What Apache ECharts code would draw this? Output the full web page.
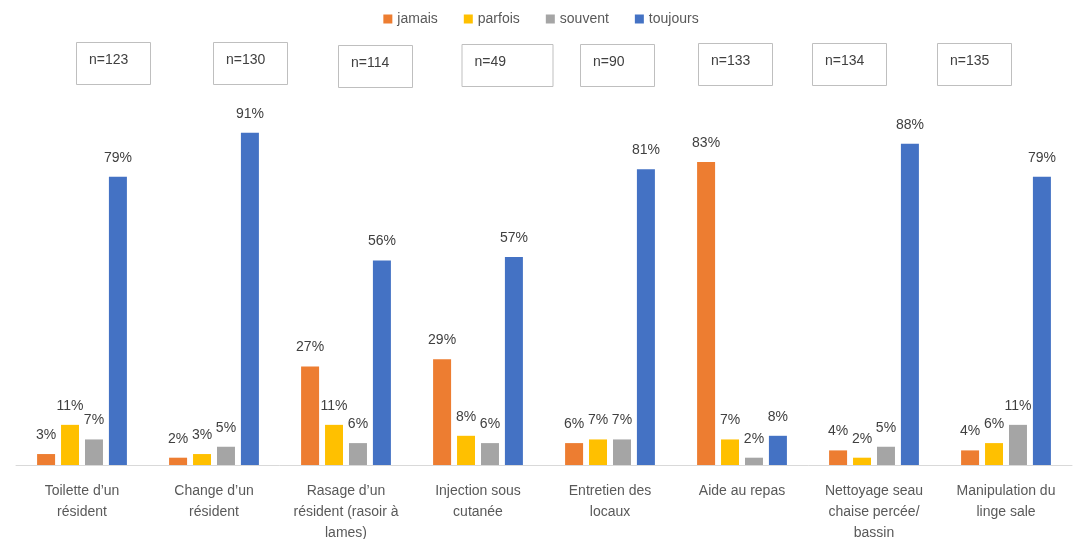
<!DOCTYPE html>
<html>
<head>
<meta charset="utf-8">
<script src="https://cdn.jsdelivr.net/npm/echarts@6/dist/echarts.min.js"></script>
<style>html,body{margin:0;padding:0;background:#fff}#c{width:1082px;height:539px}</style>
</head>
<body>
<div id="c"></div>
<script>
const categories = [
  "Toilette d\u2019un\nrésident",
  "Change d\u2019un\nrésident",
  "Rasage d\u2019un\nrésident (rasoir à\nlames)",
  "Injection sous\ncutanée",
  "Entretien des\nlocaux",
  "Aide au repas",
  "Nettoyage seau\nchaise percée/\nbassin",
  "Manipulation du\nlinge sale"
];
const seriesNames = ["jamais", "parfois", "souvent", "toujours"];
const jamais   = [3, 2, 27, 29, 6, 83, 4, 4];
const parfois  = [11, 3, 11, 8, 7, 7, 2, 6];
const souvent  = [7, 5, 6, 6, 7, 2, 5, 11];
const toujours = [79, 91, 56, 57, 81, 8, 88, 79];
const nLabels  = ["n=123", "n=130", "n=114", "n=49", "n=90", "n=133", "n=134", "n=135"];
// annotation box layout (offset from category centre, top, width)
const boxOffsets = [31, 36, 29, 29, 7, -7, -25, -32];
const boxTops    = [42, 42, 45, 44, 44, 43, 43, 43];
const boxWidths  = [74, 74, 74, 91, 74, 74, 74, 74];

const colors = ["#ED7D31", "#FFC000", "#A5A5A5", "#4472C4"];
const font = "Liberation Sans";
const allData = [jamais, parfois, souvent, toujours];

const chart = echarts.init(document.getElementById('c'), null, {renderer: 'canvas'});
const option = {
  animation: false,
  color: colors,
  textStyle: {fontFamily: font},
  legend: {
    top: 7, left: 'center',
    itemWidth: 9, itemHeight: 9, itemGap: 26,
    icon: 'rect',
    textStyle: {color: '#595959', fontSize: 14, fontFamily: font},
    data: seriesNames
  },
  grid: {left: 16, right: 10, top: 100, bottom: 74, outerBoundsMode: 'none', containLabel: false},
  xAxis: {
    type: 'category',
    data: categories,
    axisLine: {lineStyle: {color: '#D9D9D9'}},
    axisTick: {show: false},
    axisLabel: {color: '#595959', fontSize: 14, fontFamily: font, margin: 16, lineHeight: 21, interval: 0}
  },
  yAxis: {
    type: 'value', min: 0, max: 100, show: false,
    splitLine: {show: false}
  },
  series: seriesNames.map((name, i) => ({
    name: name,
    type: 'bar',
    data: allData[i],
    barWidth: 18,
    barGap: '33%',
    label: {
      show: true, position: 'top', distance: 12,
      formatter: '{c}%',
      color: '#404040', fontSize: 14, fontFamily: font
    }
  }))
};
chart.setOption(option);

const graphics = [];
categories.forEach((c, i) => {
  const cx = chart.convertToPixel({xAxisIndex: 0}, i);
  const w = boxWidths[i];
  const left = cx + boxOffsets[i] - w / 2;
  graphics.push({
    type: 'rect',
    shape: {x: left + 0.5, y: boxTops[i] + 0.5, width: w, height: 42},
    style: {fill: '#fff', stroke: '#BFBFBF', lineWidth: 1}
  });
  graphics.push({
    type: 'text',
    x: left + 13, y: boxTops[i] + 18,
    style: {text: nLabels[i], fill: '#404040', font: '14px "' + font + '"', textVerticalAlign: 'middle'}
  });
});
chart.setOption({graphic: graphics});
</script>
</body>
</html>
